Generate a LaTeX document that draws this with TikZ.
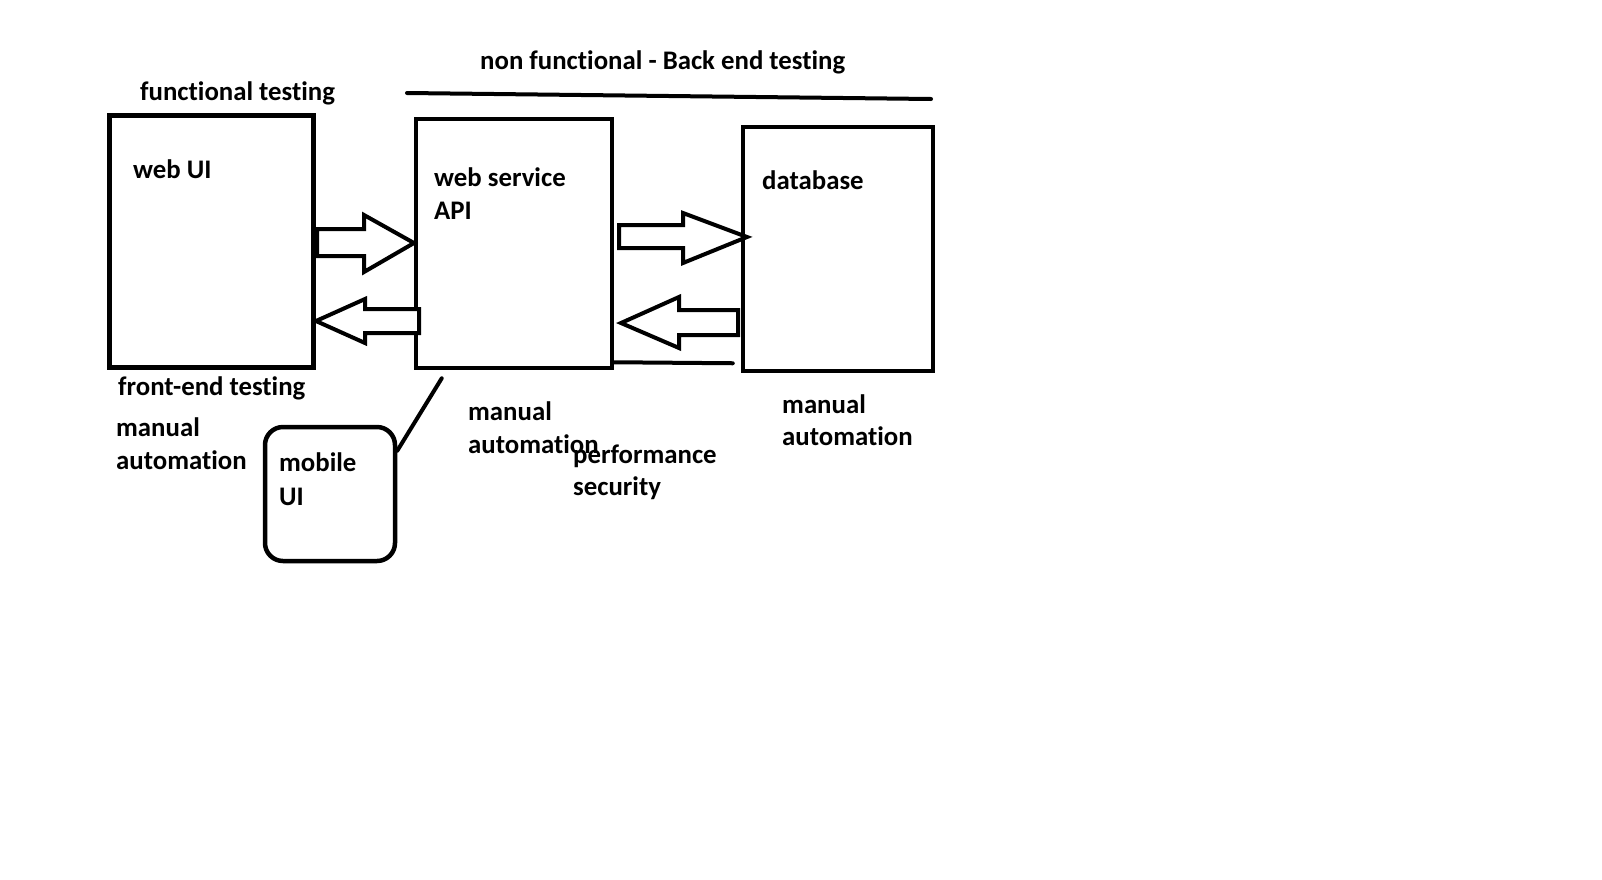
\documentclass[tikz,border=0pt]{standalone}
\usepackage{fontspec}
\setmainfont[Ligatures={NoCommon}]{Carlito}
\usetikzlibrary{calc}
\begin{document}
\begin{tikzpicture}[x=1pt,y=-1pt,
  box/.style={draw=black,line width=4.5pt,inner sep=0pt,fill=none},
  lbl/.style={anchor=base west,inner sep=0pt,font=\fontsize{26.8}{32}\selectfont\bfseries},
  blockarr/.style={draw=black,line width=4pt,line join=miter,fill=white},
  conn/.style={draw=black,line width=4pt,line cap=round}]
\useasboundingbox[fill=white] (0,0) rectangle (1602,879);
% boxes
\node[box,minimum width=204pt,minimum height=252pt] (webui) at (211.5,241.5) {};
\node[box,minimum width=196pt,minimum height=249pt] (api) at (514,243.5) {};
\node[box,minimum width=190pt,minimum height=244pt] (db) at (838,249) {};
\node[box,minimum width=130pt,minimum height=134pt,rounded corners=18pt] (mobile) at (330,494) {};
% block arrows
\draw[blockarr] (317,229) -- (364,229) -- (364,215) -- (414,243) -- (364,272) -- (364,256) -- (317,256) -- cycle;
\draw[blockarr] (419,309) -- (365,309) -- (365,299) -- (316,321) -- (365,343) -- (365,333) -- (419,333) -- cycle;
\draw[blockarr] (619,225) -- (683,225) -- (683,213) -- (747,237) -- (683,263) -- (683,248) -- (619,248) -- cycle;
\draw[blockarr] (738,310) -- (679,310) -- (679,297) -- (621,323) -- (679,348) -- (679,335) -- (738,335) -- cycle;
% connectors
\coordinate (apibot) at ($(api.south west)+(28,8)$);
\coordinate (mobr) at ($(mobile.north east)+(0,26)$);
\draw[conn] (apibot) -- (mobr);
\coordinate (apiline) at ($(api.south east)+(0,-8)$);
\coordinate (dbline) at ($(db.south west)+(-8,-10)$);
\draw[conn] (apiline) -- (dbline);
\coordinate (tl1) at (407,93);
\coordinate (tl2) at (931,99);
\draw[conn] (tl1) -- (tl2);
% labels
\node[lbl] (t1) at (140,100) {functional testing};
\node[lbl] (t2) at (480,69) {non functional - Back end testing};
\node[lbl] (t3) at (133,178) {web UI};
\node[lbl] (t4) at (434,186) {web service};
\node[lbl] (t5) at (434,219) {API};
\node[lbl] (t6) at (762,189.5) {database};
\node[lbl] (t7) at (118,395) {front-end testing};
\node[lbl] (t8) at (116,436) {manual};
\node[lbl] (t9) at (116,469) {automation};
\node[lbl] (t10) at (279,471) {mobile};
\node[lbl] (t11) at (279,505) {UI};
\node[lbl] (t12) at (468,420) {manual};
\node[lbl] (t13) at (468,453) {automation};
\node[lbl] (t14) at (573,463) {performance};
\node[lbl] (t15) at (573,495) {security};
\node[lbl] (t16) at (782,413) {manual};
\node[lbl] (t17) at (782,445) {automation};
\end{tikzpicture}
\end{document}
